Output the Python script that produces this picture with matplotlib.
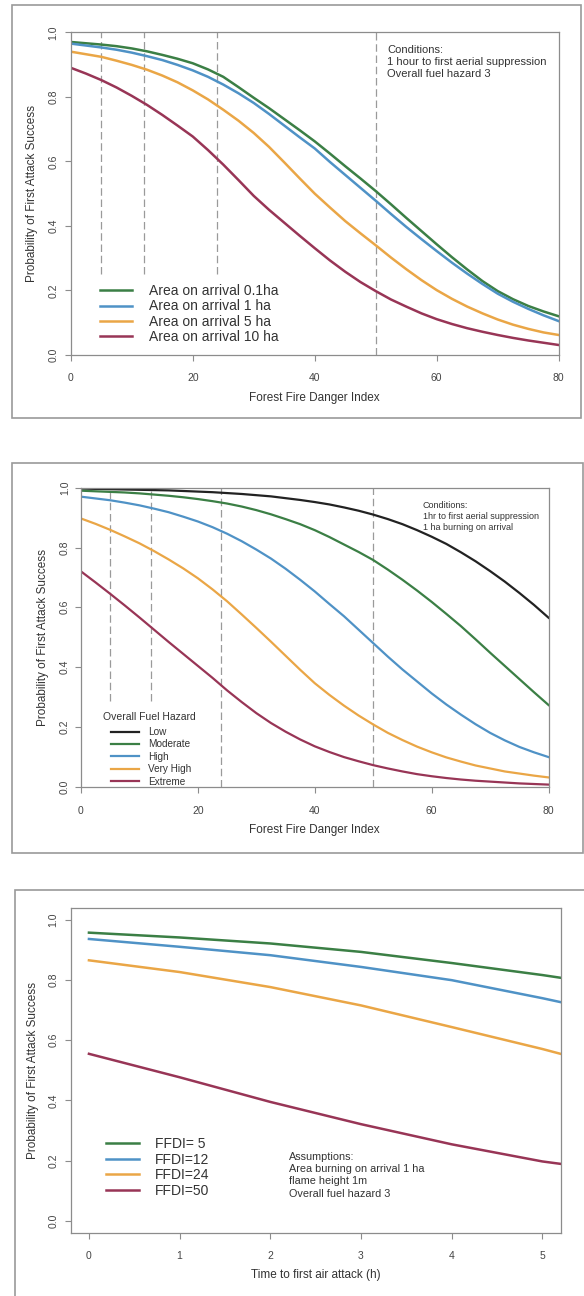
import matplotlib
matplotlib.use("Agg")
import matplotlib.pyplot as plt
from matplotlib.patches import Rectangle

plt.rcParams["font.family"] = ["Liberation Sans", "DejaVu Sans"]

W, H = 584, 1296

ffdi = [0, 2.5, 5, 7.5, 10, 12.5, 15, 17.5, 20, 22.5, 25, 27.5, 30, 32.5, 35, 37.5,
        40, 42.5, 45, 47.5, 50, 52.5, 55, 57.5, 60, 62.5, 65, 67.5, 70, 72.5, 75, 77.5, 80]

# ---- panel 1: area on arrival ----
area_labels = ["Area on arrival 0.1ha", "Area on arrival 1 ha",
               "Area on arrival 5 ha", "Area on arrival 10 ha"]
area_01 = [0.970, 0.966, 0.962, 0.957, 0.950, 0.941, 0.930, 0.918, 0.904, 0.885, 0.862,
           0.830, 0.797, 0.765, 0.731, 0.697, 0.662, 0.624, 0.585, 0.547, 0.508, 0.467,
           0.425, 0.384, 0.343, 0.303, 0.265, 0.229, 0.198, 0.173, 0.152, 0.135, 0.120]
area_1 = [0.965, 0.959, 0.953, 0.946, 0.937, 0.926, 0.914, 0.899, 0.882, 0.862, 0.838,
          0.811, 0.781, 0.747, 0.711, 0.675, 0.640, 0.598, 0.558, 0.518, 0.478, 0.437,
          0.397, 0.359, 0.322, 0.286, 0.252, 0.220, 0.190, 0.165, 0.143, 0.123, 0.105]
area_5 = [0.940, 0.932, 0.924, 0.912, 0.899, 0.884, 0.866, 0.845, 0.820, 0.792, 0.760,
          0.726, 0.688, 0.645, 0.597, 0.548, 0.500, 0.457, 0.415, 0.377, 0.340, 0.302,
          0.266, 0.232, 0.201, 0.174, 0.150, 0.129, 0.110, 0.094, 0.081, 0.070, 0.062]
area_10 = [0.890, 0.872, 0.852, 0.829, 0.803, 0.775, 0.744, 0.711, 0.677, 0.635, 0.590,
           0.542, 0.493, 0.450, 0.410, 0.370, 0.331, 0.293, 0.258, 0.226, 0.198, 0.172,
           0.150, 0.129, 0.111, 0.096, 0.083, 0.072, 0.062, 0.053, 0.045, 0.038, 0.031]
area_colors = ["#3b7f45", "#4f92c6", "#eaa646", "#983556"]

# ---- panel 2: overall fuel hazard ----
hazard_labels = ["Low", "Moderate", "High", "Very High", "Extreme"]
haz_low = [0.997, 0.996, 0.995, 0.994, 0.993, 0.992, 0.991, 0.989, 0.987, 0.985, 0.982,
           0.979, 0.975, 0.971, 0.965, 0.959, 0.952, 0.944, 0.934, 0.923, 0.910, 0.895,
           0.878, 0.858, 0.836, 0.812, 0.784, 0.754, 0.721, 0.686, 0.648, 0.608, 0.565]
haz_mod = [0.990, 0.988, 0.986, 0.984, 0.981, 0.977, 0.973, 0.968, 0.962, 0.955, 0.947,
           0.937, 0.925, 0.911, 0.895, 0.878, 0.858, 0.835, 0.810, 0.785, 0.758, 0.726,
           0.692, 0.656, 0.618, 0.578, 0.537, 0.493, 0.448, 0.404, 0.360, 0.316, 0.273]
haz_high = [0.970, 0.964, 0.958, 0.950, 0.941, 0.930, 0.918, 0.903, 0.887, 0.868, 0.846,
            0.821, 0.793, 0.763, 0.729, 0.692, 0.653, 0.611, 0.570, 0.525, 0.480, 0.435,
            0.392, 0.352, 0.312, 0.275, 0.241, 0.209, 0.180, 0.155, 0.133, 0.115, 0.099]
haz_vhigh = [0.897, 0.879, 0.859, 0.837, 0.814, 0.788, 0.760, 0.730, 0.697, 0.660, 0.620,
             0.576, 0.531, 0.485, 0.438, 0.391, 0.346, 0.307, 0.271, 0.238, 0.208, 0.180,
             0.156, 0.134, 0.115, 0.098, 0.084, 0.071, 0.061, 0.051, 0.044, 0.037, 0.031]
haz_ext = [0.720, 0.683, 0.645, 0.606, 0.566, 0.525, 0.484, 0.444, 0.404, 0.364, 0.322,
           0.283, 0.246, 0.213, 0.184, 0.158, 0.135, 0.116, 0.099, 0.085, 0.072, 0.061,
           0.051, 0.042, 0.035, 0.029, 0.024, 0.020, 0.017, 0.014, 0.011, 0.009, 0.007]
hazard_colors = ["#222222", "#3b7f45", "#4f92c6", "#eaa646", "#983556"]

# ---- panel 3: time to first air attack ----
hours = [0, 1, 2, 3, 4, 5, 5.2]
ffdi_labels = ["FFDI= 5", "FFDI=12", "FFDI=24", "FFDI=50"]
t_ffdi5 = [0.958, 0.942, 0.922, 0.894, 0.857, 0.817, 0.808]
t_ffdi12 = [0.937, 0.911, 0.883, 0.844, 0.800, 0.740, 0.727]
t_ffdi24 = [0.866, 0.827, 0.777, 0.716, 0.644, 0.571, 0.555]
t_ffdi50 = [0.555, 0.477, 0.395, 0.321, 0.254, 0.197, 0.189]

guide_x = [5, 12, 24, 50]
prob_ticks = [0, 0.2, 0.4, 0.6, 0.8, 1.0]
prob_ticklabels = ["0.0", "0.2", "0.4", "0.6", "0.8", "1.0"]

GRAY = "#8c8c8c"
TXT = "#333333"
YLABEL = "Probability of First Attack Success"


def px_axes(fig, left, top, right, bottom):
    return fig.add_axes([left / W, 1 - bottom / H, (right - left) / W, (bottom - top) / H])


def outer_box(fig, left, top, right, bottom):
    fig.patches.append(Rectangle((left / W, 1 - bottom / H), (right - left) / W,
                                 (bottom - top) / H, transform=fig.transFigure,
                                 fill=False, edgecolor="#9a9a9a", lw=1.2))


def style_axes(ax, xpad, ypad, xlabel, xlab_y, ylab_x):
    for s in ax.spines.values():
        s.set_color(GRAY)
        s.set_linewidth(0.9)
    ax.set_yticks(prob_ticks)
    ax.set_yticklabels(prob_ticklabels)
    ax.tick_params(direction="out", length=4, width=0.8, color=GRAY,
                   labelsize=7.5, labelcolor="#444444")
    ax.tick_params(axis="x", pad=xpad)
    ax.tick_params(axis="y", pad=ypad)
    for lab in ax.get_yticklabels():
        lab.set_rotation(90)
        lab.set_va("center")
    ax.set_xlabel(xlabel, fontsize=8.5, color=TXT, va="center")
    ax.set_ylabel(YLABEL, fontsize=8.5, color=TXT, va="center")
    ax.xaxis.set_label_coords(0.5, xlab_y)
    ax.yaxis.set_label_coords(ylab_x, 0.5)


fig = plt.figure(figsize=(W / 100, H / 100), dpi=100)

# panel 1
outer_box(fig, 12, 5, 581, 418)
ax1 = px_axes(fig, 70.8, 32.3, 558.7, 355)
for x in guide_x:
    ax1.axvline(x, ymin=0.25 if x < 50 else 0, ymax=1, color="#9a9a9a",
                lw=0.9, ls=(0, (6, 3)))
for ys, c, lab in zip([area_01, area_1, area_5, area_10], area_colors, area_labels):
    ax1.plot(ffdi, ys, color=c, lw=1.8, label=lab)
ax1.set_xlim(0, 80)
ax1.set_ylim(0, 1)
ax1.set_xticks([0, 20, 40, 60, 80])
style_axes(ax1, 9, 5, "Forest Fire Danger Index", -0.133, -0.0795)
ax1.legend(loc="upper left", bbox_to_anchor=(100 / W, 1 - 284 / H),
           bbox_transform=fig.transFigure, frameon=False, fontsize=10,
           handlelength=2.3, handletextpad=1.2, labelspacing=0.1,
           borderpad=0, borderaxespad=0, labelcolor=TXT)
ax1.text(0.648, 0.962, "Conditions:\n1 hour to first aerial suppression\nOverall fuel hazard 3",
         transform=ax1.transAxes, fontsize=8, color=TXT, va="top", ha="left",
         linespacing=1.3)

# panel 2
outer_box(fig, 12, 463, 583, 853)
ax2 = px_axes(fig, 81, 487.7, 548.6, 786.7)
for x in guide_x:
    ax2.axvline(x, ymin=0.285 if x < 20 else 0, ymax=1, color="#9a9a9a",
                lw=0.9, ls=(0, (6, 3)))
for ys, c, lab in zip([haz_low, haz_mod, haz_high, haz_vhigh, haz_ext],
                      hazard_colors, hazard_labels):
    ax2.plot(ffdi, ys, color=c, lw=1.6, label=lab)
ax2.set_xlim(0, 80)
ax2.set_ylim(0, 1)
ax2.set_xticks([0, 20, 40, 60, 80])
style_axes(ax2, 10, 4, "Forest Fire Danger Index", -0.145, -0.081)
ax2.legend(loc="upper left", bbox_to_anchor=(111 / W, 1 - 727 / H),
           bbox_transform=fig.transFigure, frameon=False, fontsize=7.2,
           handlelength=2.75, handletextpad=1.0, labelspacing=0.24,
           borderpad=0, borderaxespad=0, labelcolor=TXT)
fig.text(103.5 / W, 1 - 717 / H, "Overall Fuel Hazard", fontsize=7.5, color=TXT,
         ha="left", va="center")
ax2.text(0.731, 0.955, "Conditions:\n1hr to first aerial suppression\n1 ha burning on arrival",
         transform=ax2.transAxes, fontsize=6.5, color=TXT, va="top", ha="left",
         linespacing=1.3)

# panel 3
outer_box(fig, 15, 890, 600, 1310)
ax3 = px_axes(fig, 70.8, 908, 560.5, 1232.7)
for ys, c, lab in zip([t_ffdi5, t_ffdi12, t_ffdi24, t_ffdi50], area_colors, ffdi_labels):
    ax3.plot(hours, ys, color=c, lw=1.8, label=lab)
ax3.set_xlim(-0.2, 5.2)
ax3.set_ylim(-0.04, 1.04)
ax3.set_xticks([0, 1, 2, 3, 4, 5])
style_axes(ax3, 9, 5, "Time to first air attack (h)", -0.130, -0.077)
ax3.legend(loc="upper left", bbox_to_anchor=(106 / W, 1 - 1137 / H),
           bbox_transform=fig.transFigure, frameon=False, fontsize=10,
           handlelength=2.4, handletextpad=1.1, labelspacing=0.12,
           borderpad=0, borderaxespad=0, labelcolor=TXT)
ax3.text(0.445, 0.25, "Assumptions:\nArea burning on arrival 1 ha\nflame height 1m\nOverall fuel hazard 3",
         transform=ax3.transAxes, fontsize=7.8, color=TXT, va="top", ha="left",
         linespacing=1.3)

fig.savefig("out.png", dpi=100, facecolor="white")
